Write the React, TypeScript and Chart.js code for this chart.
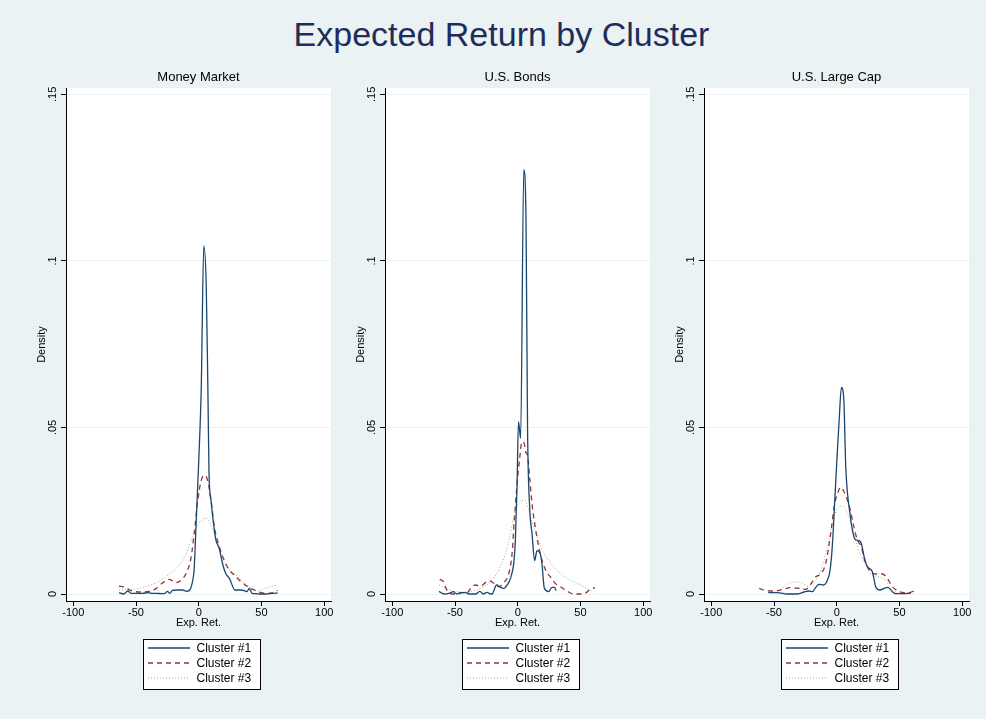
import React, { useEffect, useRef } from 'react';
import { Chart, registerables } from 'chart.js';

Chart.register(...registerables);

const FONT = '"Liberation Sans", Arial, Helvetica, sans-serif';
const BG = '#EAF2F3';

const MAIN_TITLE = 'Expected Return by Cluster';
const PANEL_TITLES = ['Money Market', 'U.S. Bonds', 'U.S. Large Cap'];
const SERIES_NAMES = ['Cluster #1', 'Cluster #2', 'Cluster #3'];
const X_TITLE = 'Exp. Ret.';
const Y_TITLE = 'Density';
const X_TICKS = [-100, -50, 0, 50, 100];
const X_TICK_LABELS = ['-100', '-50', '0', '50', '100'];
const Y_TICKS = [0, 0.05, 0.1, 0.15];
const Y_TICK_LABELS = ['0', '.05', '.1', '.15'];

// ---- Money Market ----
const MM_X1 = [-63.5, -60, -56.5, -54, -50, -45, -40, -37, -33, -30, -27, -25, -23, -21, -17, -13, -9.5, -4, -2, 0, 2, 4, 6, 7.4, 8.2, 9.8, 11.5, 13.8, 16.4, 19, 21.7, 24.4, 28.9, 33.6, 36.3, 38.4, 40.3, 42.4, 45.6, 48.2, 53.5, 58.8, 62.8];
const MM_Y1 = [0.0004, 0, 0.0009, 0.0002, 0.0002, 0.0002, 0.0004, 0.0002, 0.0002, 0.0001, 0.0002, 0.0008, 0.0002, 0.0011, 0.0012, 0.0012, 0.0008, 0.006, 0.022, 0.04, 0.062, 0.1045, 0.092, 0.058, 0.036, 0.028, 0.022, 0.016, 0.0137, 0.009, 0.006, 0.0047, 0.0012, 0.0012, 0.001, 0.0007, 0.0017, 0.0002, 0.0001, 0, 0, 0.0002, 0.0003];
const MM_X2 = [-63.6, -59, -53.8, -47, -41.3, -35, -28.6, -23.3, -18, -14, -10, -6.1, -3.4, -0.8, 1.9, 4.5, 7.2, 9.8, 12.5, 16.4, 20.4, 24.4, 28.3, 33.6, 38.9, 44.2, 49.5, 54.8, 58.8, 62.8];
const MM_Y2 = [0.0024, 0.002, 0.001, 0.0006, 0.0007, 0.0014, 0.0034, 0.0044, 0.0034, 0.0042, 0.0062, 0.011, 0.019, 0.028, 0.034, 0.0357, 0.034, 0.028, 0.02, 0.0142, 0.01, 0.0072, 0.0057, 0.0037, 0.0022, 0.0012, 0.0004, 0.0002, 0.0004, 0.0011];
const MM_X3 = [-63.6, -57.7, -49.8, -41.9, -33.9, -26, -18, -11.4, -6.1, -2.1, 1.9, 5.8, 9.8, 13.8, 17.7, 23, 28.3, 33.6, 40.3, 46.9, 52.2, 57.5, 62.8];
const MM_Y3 = [0.0012, 0.0015, 0.0016, 0.0022, 0.0034, 0.0052, 0.0077, 0.011, 0.016, 0.0197, 0.022, 0.0227, 0.0207, 0.016, 0.011, 0.0077, 0.0062, 0.0042, 0.0022, 0.001, 0.0016, 0.0022, 0.0027];

// ---- U.S. Bonds ----
const BD_X1 = [-62.7, -58.7, -54.8, -51.3, -48.7, -45.5, -41.5, -38.9, -33.6, -30.2, -27.5, -24.3, -21.7, -20.4, -16.9, -13.8, -11.1, -8.5, -5.8, -3.2, -1.9, -0.6, 0.6, 2.3, 4.8, 6.6, 7.8, 9.5, 11.4, 13.5, 15.3, 18, 19.3, 21.2, 24.6, 27.2, 29.1, 30.7];
const BD_Y1 = [0.0008, 0, 0.0002, 0.0007, 0, 0.0004, 0.0004, 0, 0, 0.0008, 0, 0.0005, 0, 0, 0.0027, 0.002, 0.0017, 0.0027, 0.0047, 0.0092, 0.016, 0.032, 0.0517, 0.0467, 0.1274, 0.112, 0.05, 0.026, 0.018, 0.01, 0.013, 0.012, 0.009, 0.0017, 0.0007, 0.002, 0.002, 0.001];
const BD_X2 = [-62.2, -59.3, -56.6, -52.1, -48.1, -44.2, -40.2, -37.6, -33.6, -29.6, -25.7, -22.2, -19, -15.1, -11.1, -7.1, -4.5, -2.6, -0.5, 1.6, 3.4, 5.3, 6.3, 7.9, 9.5, 11.4, 14, 16.7, 19.3, 22.8, 25.9, 29.9, 33.9, 39.2, 44.4, 49.7, 54.5, 57.7, 61.6];
const BD_Y2 = [0.0044, 0.0037, 0.0012, 0, 0, 0.0004, 0.0004, 0.0017, 0.0027, 0.0024, 0.0034, 0.0039, 0.0032, 0.0022, 0.0034, 0.0062, 0.0122, 0.023, 0.033, 0.041, 0.0457, 0.045, 0.0427, 0.0414, 0.035, 0.027, 0.02, 0.0142, 0.0102, 0.0067, 0.0052, 0.0032, 0.0022, 0.0009, 0, 0, 0.0004, 0.0014, 0.0019];
const BD_X3 = [-62.7, -57.4, -50.8, -42.9, -34.9, -28.3, -21.7, -15.1, -9.8, -5.8, -1.9, 2.1, 5.3, 8.7, 12.7, 16.7, 20.6, 24.6, 28.6, 33.9, 39.2, 44.4, 49.7, 55, 60.3];
const BD_Y3 = [0.0027, 0.0017, 0.0008, 0.0006, 0.001, 0.0019, 0.0037, 0.0072, 0.0122, 0.0182, 0.0252, 0.0277, 0.0282, 0.0252, 0.02, 0.016, 0.0122, 0.0102, 0.0082, 0.0062, 0.0047, 0.0037, 0.0027, 0.0017, 0.0007];

// ---- U.S. Large Cap ----
const LC_X1 = [-54.6, -47.2, -39.3, -31.3, -26, -22, -19.4, -16.7, -14.1, -10.6, -7.4, -5.3, -3.4, -1.6, 0.5, 1.9, 3.7, 5.6, 7.2, 10.6, 13.8, 15.6, 17.8, 19.6, 21.8, 24.4, 28.4, 31, 34.5, 37.7, 40.8, 44.3, 46.9, 53.6, 58.9];
const LC_Y1 = [0.0004, 0.0004, 0, 0, 0.0006, 0.0009, 0.0007, 0.002, 0.0029, 0.0027, 0.0042, 0.0072, 0.0152, 0.028, 0.043, 0.052, 0.062, 0.0586, 0.038, 0.024, 0.017, 0.0162, 0.016, 0.0152, 0.0112, 0.0082, 0.0067, 0.0022, 0.0012, 0.0017, 0.002, 0.0007, 0.0001, 0.0001, 0.0002];
const LC_X2 = [-61.8, -56.5, -49.9, -43.2, -36.6, -30, -24.7, -20.7, -16.7, -12.7, -8.8, -4.8, -2.1, 0.5, 3.2, 5.8, 8.5, 11.1, 13.8, 16.4, 19.6, 21.8, 24.4, 28.4, 32.4, 36.3, 40.3, 44.3, 48.3, 53.6, 57.6, 62.1];
const LC_Y2 = [0.0017, 0.001, 0.0009, 0.0014, 0.0019, 0.0017, 0.0014, 0.003, 0.0052, 0.006, 0.0092, 0.0182, 0.0262, 0.03, 0.032, 0.0307, 0.0282, 0.0247, 0.02, 0.0162, 0.0142, 0.0107, 0.0082, 0.0062, 0.006, 0.006, 0.0047, 0.0022, 0.001, 0.0004, 0.0004, 0.001];
const LC_X3 = [-54.6, -47.2, -40.6, -34, -28.6, -23.3, -18, -12.7, -7.4, -3.4, 0.5, 4.5, 8.5, 12.5, 16.4, 20.4, 24.4, 28.4, 33.7, 39, 43, 48.3, 53.6, 57.6];
const LC_Y3 = [0.0007, 0.001, 0.0027, 0.0037, 0.0034, 0.0024, 0.0037, 0.0072, 0.0142, 0.0212, 0.0257, 0.0264, 0.0242, 0.0197, 0.0142, 0.0107, 0.0077, 0.0057, 0.0052, 0.0042, 0.0017, 0.0004, 0.0002, 0.0004];

const PANEL_DATA = [
  { xs: [MM_X1, MM_X2, MM_X3], ys: [MM_Y1, MM_Y2, MM_Y3] },
  { xs: [BD_X1, BD_X2, BD_X3], ys: [BD_Y1, BD_Y2, BD_Y3] },
  { xs: [LC_X1, LC_X2, LC_X3], ys: [LC_Y1, LC_Y2, LC_Y3] },
];

const SERIES_STYLES = [
  { color: '#1a476f', width: 1.3, dash: [] as number[] },
  { color: '#90353b', width: 1.3, dash: [5, 4] },
  { color: '#a3ad8c', width: 1, dash: [1, 2] },
];

const plotBgPlugin = {
  id: 'plotBg',
  beforeDraw(chart: any) {
    const { ctx, chartArea } = chart;
    ctx.save();
    ctx.fillStyle = '#ffffff';
    ctx.fillRect(chartArea.left, chartArea.top, chartArea.right - chartArea.left, chartArea.bottom - chartArea.top);
    ctx.restore();
  },
};

const boxLegendPlugin = {
  id: 'boxLegend',
  afterDraw(chart: any) {
    const { ctx, chartArea } = chart;
    const w = 117;
    const h = 50;
    const left = Math.round((chartArea.left + chartArea.right) / 2 + 3 - w / 2) + 0.5;
    const top = Math.round(chartArea.bottom + 38) + 0.5;
    ctx.save();
    ctx.fillStyle = '#ffffff';
    ctx.fillRect(left, top, w, h);
    ctx.setLineDash([]);
    ctx.strokeStyle = '#000000';
    ctx.lineWidth = 1;
    ctx.strokeRect(left, top, w, h);
    chart.data.datasets.forEach((ds: any, i: number) => {
      const y = Math.round(top + 8.5 + i * 14.8);
      ctx.beginPath();
      ctx.strokeStyle = ds.borderColor;
      ctx.lineWidth = ds.borderWidth;
      ctx.setLineDash(ds.borderDash || []);
      ctx.moveTo(left + 4.5, y);
      ctx.lineTo(left + 46.5, y);
      ctx.stroke();
      ctx.setLineDash([]);
      ctx.fillStyle = '#000000';
      ctx.font = `12px ${FONT}`;
      ctx.textBaseline = 'middle';
      ctx.textAlign = 'left';
      ctx.fillText(ds.label, left + 53, y + 0.5);
    });
    ctx.restore();
  },
};

function Panel({ index }: { index: number }) {
  const ref = useRef<HTMLCanvasElement>(null);
  useEffect(() => {
    const pd = PANEL_DATA[index];
    const datasets = SERIES_NAMES.map((name, s) => ({
      label: name,
      data: pd.xs[s].map((x, k) => ({ x, y: pd.ys[s][k] })),
      borderColor: SERIES_STYLES[s].color,
      borderWidth: SERIES_STYLES[s].width,
      borderDash: SERIES_STYLES[s].dash,
      pointRadius: 0,
      fill: false,
      cubicInterpolationMode: 'monotone' as const,
    }));
    const tickFont = { family: FONT, size: 11 };
    const chart = new Chart(ref.current as HTMLCanvasElement, {
      type: 'line',
      data: { datasets },
      options: {
        animation: false,
        responsive: false,
        maintainAspectRatio: false,
        devicePixelRatio: 1,
        events: [],
        layout: { padding: { left: 0, right: 9, top: 0, bottom: 79 } },
        plugins: {
          legend: { display: false },
          tooltip: { enabled: false },
          title: {
            display: true,
            text: PANEL_TITLES[index],
            fullSize: false,
            color: '#000000',
            font: { family: FONT, size: 13, weight: 'normal' },
            padding: { top: 10, bottom: 2.4 },
          },
        },
        scales: {
          x: {
            type: 'linear',
            min: -105.8,
            max: 105.4,
            afterBuildTicks: (s: any) => {
              s.ticks = X_TICKS.map((v) => ({ value: v }));
            },
            afterFit: (s: any) => {
              s.height = 30;
              s.paddingLeft = 0;
              s.paddingRight = 0;
            },
            grid: { drawOnChartArea: false, drawTicks: true, tickLength: 5, tickColor: '#000000' },
            border: { color: '#000000', width: 1 },
            ticks: {
              font: tickFont,
              color: '#000000',
              padding: 0,
              maxRotation: 0,
              autoSkip: false,
              callback: (_v: any, i: number) => X_TICK_LABELS[i],
            },
            title: {
              display: true,
              text: X_TITLE,
              color: '#000000',
              font: tickFont,
              padding: { top: 0, bottom: 1.1 },
            },
          },
          y: {
            type: 'linear',
            min: -0.0021,
            max: 0.15189,
            afterBuildTicks: (s: any) => {
              s.ticks = Y_TICKS.map((v) => ({ value: v }));
            },
            afterFit: (s: any) => {
              s.width = 56;
              s.paddingTop = 0;
              s.paddingBottom = 0;
            },
            grid: { color: BG, tickColor: '#000000', tickLength: 5, lineWidth: 1 },
            border: { color: '#000000', width: 1 },
            ticks: {
              font: tickFont,
              color: '#000000',
              padding: 0,
              minRotation: 90,
              maxRotation: 90,
              crossAlign: 'center',
              autoSkip: false,
              callback: (_v: any, i: number) => Y_TICK_LABELS[i],
            },
            title: {
              display: true,
              text: Y_TITLE,
              color: '#000000',
              font: tickFont,
              padding: { top: 25, bottom: 0 },
            },
          },
        },
      },
      plugins: [plotBgPlugin, boxLegendPlugin],
    } as any);
    return () => chart.destroy();
  }, [index]);
  return (
    <canvas
      ref={ref}
      width={330}
      height={650}
      style={{ position: 'absolute', left: 10 + 319 * index, top: 60, width: 330, height: 650 }}
    />
  );
}

export default function App() {
  useEffect(() => {
    document.body.style.margin = '0';
  }, []);
  return (
    <div
      style={{
        position: 'fixed',
        left: 0,
        top: 0,
        width: 986,
        height: 719,
        background: BG,
        overflow: 'hidden',
      }}
    >
      <div
        style={{
          position: 'absolute',
          left: 0,
          top: 17,
          width: 1003,
          textAlign: 'center',
          fontFamily: FONT,
          fontSize: 34,
          lineHeight: '34px',
          color: '#1f2d5a',
          whiteSpace: 'nowrap',
        }}
      >
        {MAIN_TITLE}
      </div>
      {PANEL_TITLES.map((_, i) => (
        <Panel key={i} index={i} />
      ))}
    </div>
  );
}
